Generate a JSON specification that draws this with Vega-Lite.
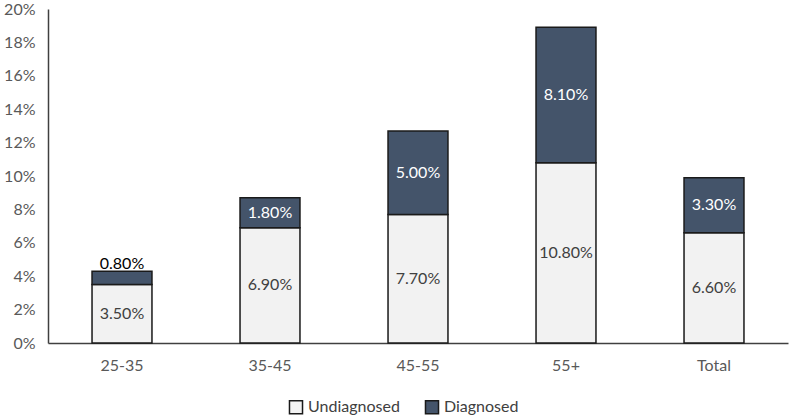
{
  "$schema": "https://vega.github.io/schema/vega-lite/v6.json",
  "width": 740,
  "height": 334,
  "autosize": {"type": "none"},
  "padding": {"left": 48, "top": 9, "right": 1, "bottom": 74},
  "background": "white",
  "config": {
    "view": {"stroke": null},
    "font": "Lato",
    "axis": {"labelFont": "Lato", "labelFontSize": 16, "labelColor": "#595959", "grid": false, "ticks": false, "domainColor": "#404040", "domainWidth": 1.5, "title": null, "labelOverlap": false},
    "axisY": {"values": [0,0.02,0.04,0.06,0.08,0.1,0.12,0.14,0.16,0.18,0.2], "format": ".0%", "labelPadding": 13, "labelOverlap": false, "labelBound": false},
    "legend": {"labelFont": "Lato", "labelFontSize": 16, "labelColor": "#404040"}
  },
  "data": {
    "values": [
      {"cat": "25-35", "status": "Undiagnosed", "value": 0.035},
      {"cat": "25-35", "status": "Diagnosed", "value": 0.008},
      {"cat": "35-45", "status": "Undiagnosed", "value": 0.069},
      {"cat": "35-45", "status": "Diagnosed", "value": 0.018},
      {"cat": "45-55", "status": "Undiagnosed", "value": 0.077},
      {"cat": "45-55", "status": "Diagnosed", "value": 0.05},
      {"cat": "55+", "status": "Undiagnosed", "value": 0.108},
      {"cat": "55+", "status": "Diagnosed", "value": 0.081},
      {"cat": "Total", "status": "Undiagnosed", "value": 0.066},
      {"cat": "Total", "status": "Diagnosed", "value": 0.033}
    ]
  },
  "transform": [
    {"stack": "value", "groupby": ["cat"], "sort": [{"field": "status", "order": "descending"}], "as": ["y0", "y1"]},
    {"calculate": "(datum.y0 + datum.y1) / 2", "as": "mid"}
  ],
  "encoding": {
    "x": {
      "field": "cat", "type": "nominal", "sort": null,
      "scale": {"paddingInner": 0.595, "paddingOuter": 0.2975},
      "axis": {"labelAngle": 0, "labelPadding": 14}
    }
  },
  "layer": [
    {
      "mark": {"type": "bar", "stroke": "#1a1a1a", "strokeWidth": 1.5},
      "encoding": {
        "y": {"field": "y1", "type": "quantitative", "scale": {"domain": [0, 0.2]},
          "axis": {"format": ".0%", "values": [0,0.02,0.04,0.06,0.08,0.1,0.12,0.14,0.16,0.18,0.2], "labelPadding": 13, "labelOverlap": false, "labelBound": false}},
        "y2": {"field": "y0"},
        "color": {
          "field": "status", "type": "nominal",
          "scale": {"domain": ["Undiagnosed", "Diagnosed"], "range": ["#f2f2f2", "#44546a"]},
          "legend": {"title": null, "orient": "none", "direction": "horizontal", "legendX": 240, "legendY": 390, "symbolType": "square", "symbolSize": 170, "symbolStrokeColor": "#1a1a1a", "symbolStrokeWidth": 1.5, "symbolOpacity": 1, "columnPadding": 22, "labelOffset": 4}
        }
      }
    },
    {
      "transform": [{"filter": "datum.status == 'Undiagnosed'"}],
      "mark": {"type": "text", "fontSize": 16, "color": "#404040", "baseline": "middle"},
      "encoding": {
        "y": {"field": "mid", "type": "quantitative",
          "axis": {"format": ".0%", "values": [0,0.02,0.04,0.06,0.08,0.1,0.12,0.14,0.16,0.18,0.2], "labelPadding": 13, "labelOverlap": false, "labelBound": false}},
        "text": {"field": "value", "type": "quantitative", "format": ".2%"}
      }
    },
    {
      "transform": [{"filter": "datum.status == 'Diagnosed' && datum.value >= 0.01"}],
      "mark": {"type": "text", "fontSize": 16, "color": "white", "baseline": "middle"},
      "encoding": {
        "y": {"field": "mid", "type": "quantitative",
          "axis": {"format": ".0%", "values": [0,0.02,0.04,0.06,0.08,0.1,0.12,0.14,0.16,0.18,0.2], "labelPadding": 13, "labelOverlap": false, "labelBound": false}},
        "text": {"field": "value", "type": "quantitative", "format": ".2%"}
      }
    },
    {
      "transform": [{"filter": "datum.status == 'Diagnosed' && datum.value < 0.01"}],
      "mark": {"type": "text", "fontSize": 16, "color": "black", "baseline": "bottom", "dy": 1},
      "encoding": {
        "y": {"field": "y1", "type": "quantitative",
          "axis": {"format": ".0%", "values": [0,0.02,0.04,0.06,0.08,0.1,0.12,0.14,0.16,0.18,0.2], "labelPadding": 13, "labelOverlap": false, "labelBound": false}},
        "text": {"field": "value", "type": "quantitative", "format": ".2%"}
      }
    }
  ]
}
